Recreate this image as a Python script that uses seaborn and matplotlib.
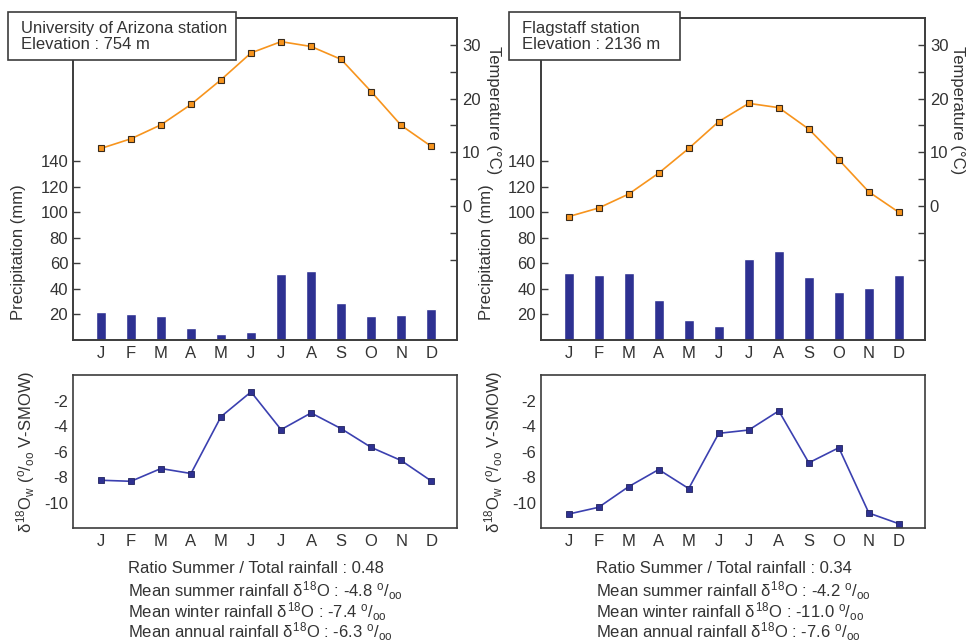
import numpy as np
import pandas as pd
import matplotlib
matplotlib.use("Agg")
import matplotlib.pyplot as plt
from matplotlib.patches import Rectangle
import seaborn as sns

# --- Data ---
months = ["Jan", "Feb", "Mar", "Apr", "May", "Jun",
          "Jul", "Aug", "Sep", "Oct", "Nov", "Dec"]
month_letters = ["J", "F", "M", "A", "M", "J", "J", "A", "S", "O", "N", "D"]

az_precip = [21.7, 20.6, 18.5, 9.6, 4.7, 6.3, 51.9, 54.0, 29.0, 18.5, 19.6, 24.0]
az_temp = [10.7, 12.5, 15.1, 18.9, 23.5, 28.5, 30.6, 29.7, 27.3, 21.3, 15.0, 11.1]
az_d18o = [-8.25, -8.33, -7.33, -7.72, -3.26, -1.32, -4.28, -2.97, -4.2, -5.67, -6.7, -8.3]

fl_precip = [52.4, 51.1, 52.7, 31.6, 15.4, 11.2, 63.1, 69.4, 49.0, 37.8, 40.7, 51.1]
fl_temp = [-2.0, -0.4, 2.2, 6.1, 10.7, 15.7, 19.1, 18.3, 14.3, 8.6, 2.6, -1.2]
fl_d18o = [-10.9, -10.37, -8.75, -7.41, -8.9, -4.57, -4.31, -2.81, -6.88, -5.7, -10.82, -11.66]

stations = ["University of Arizona station\nElevation : 754 m",
            "Flagstaff station\nElevation : 2136 m"]
summaries = [
    ["Ratio Summer / Total rainfall : 0.48",
     r"Mean summer rainfall $\delta^{18}$O : -4.8 $^{o}/_{oo}$",
     r"Mean winter rainfall $\delta^{18}$O : -7.4 $^{o}/_{oo}$",
     r"Mean annual rainfall $\delta^{18}$O : -6.3 $^{o}/_{oo}$"],
    ["Ratio Summer / Total rainfall : 0.34",
     r"Mean summer rainfall $\delta^{18}$O : -4.2 $^{o}/_{oo}$",
     r"Mean winter rainfall $\delta^{18}$O : -11.0 $^{o}/_{oo}$",
     r"Mean annual rainfall $\delta^{18}$O : -7.6 $^{o}/_{oo}$"],
]

precip_ticks = [20, 40, 60, 80, 100, 120, 140]
temp_ticks = [-10, -5, 0, 5, 10, 15, 20, 25, 30]
temp_labels = ["", "", "0", "", "10", "", "20", "", "30"]
d18o_ticks = [-10, -8, -6, -4, -2]

sns.set_theme(style="white")
plt.rcParams["font.family"] = ["Liberation Sans", "DejaVu Sans"]
plt.rcParams["mathtext.fontset"] = "custom"
plt.rcParams["mathtext.rm"] = "Liberation Sans"
plt.rcParams["mathtext.it"] = "Liberation Sans"
plt.rcParams["mathtext.bf"] = "Liberation Sans"
plt.rcParams["axes.unicode_minus"] = False

SPINE = "#3c3c3c"
TXT = "#333333"
BAR = "#2e3192"
ORANGE = "#f7941d"
LINE_BLUE = "#3b40b0"

fig = plt.figure(figsize=(9.68, 6.44), dpi=100)

x = np.arange(12)
lefts = [73 / 968, 540.7 / 968]
temp_label_x = [1.095, 1.084]
data = [(az_precip, az_temp, az_d18o), (fl_precip, fl_temp, fl_d18o)]


def style_axes(ax):
    for s in ax.spines.values():
        s.set_color(SPINE)
        s.set_linewidth(1.2)
    ax.tick_params(axis="y", direction="in", length=5, width=1, color=SPINE,
                   labelcolor=TXT, labelsize=12, pad=3.5)
    ax.tick_params(axis="x", length=0, labelcolor=TXT, labelsize=12, pad=4)


for i, (precip, temp, d18o) in enumerate(data):
    left = lefts[i]
    df = pd.DataFrame({"month": months, "precip": precip, "temp": temp, "d18o": d18o, "x": x})

    # top panel: precipitation bars + temperature line
    ax = fig.add_axes([left, 0.472, 0.397, 0.5])
    sns.barplot(data=df, x="month", y="precip", color=BAR, width=0.33,
                saturation=1, ax=ax)
    ax.set_xlim(-0.93, 11.87)
    ax.set_ylim(0, 252)
    ax.set_yticks(precip_ticks)
    ax.set_xticks(x)
    ax.set_xticklabels(month_letters)
    ax.set_xlabel("")
    ax.set_ylabel("Precipitation (mm)", fontsize=12, color=TXT)
    ax.yaxis.set_label_coords(-0.122, 0.273)
    style_axes(ax)

    ax2 = ax.twinx()
    sns.lineplot(data=df, x="x", y="temp", color=ORANGE, lw=1.2, marker="s",
                 markersize=4, markerfacecolor=ORANGE, markeredgecolor="#3a2a1a",
                 markeredgewidth=0.8, ax=ax2)
    ax2.set_xlim(-0.93, 11.87)
    ax2.set_ylim(-25, 35)
    ax2.set_yticks(temp_ticks)
    ax2.set_yticklabels(temp_labels)
    ax2.set_ylabel("Temperature (°C)", fontsize=12, color=TXT, rotation=-90, va="center")
    ax2.yaxis.set_label_coords(temp_label_x[i], 0.714)
    style_axes(ax2)

    # bottom panel: d18O
    axb = fig.add_axes([left, 0.180, 0.397, 0.2376])
    sns.lineplot(data=df, x="x", y="d18o", color=LINE_BLUE, lw=1.2, marker="s",
                 markersize=4.5, markerfacecolor=BAR, markeredgecolor="#20225e",
                 markeredgewidth=0.6, ax=axb)
    axb.set_xlim(-0.93, 11.87)
    axb.set_ylim(-12, 0)
    axb.set_yticks(d18o_ticks)
    axb.set_xticks(x)
    axb.set_xticklabels(month_letters)
    axb.set_xlabel("")
    axb.set_ylabel(r"$\delta^{18}$O$_w$ ($^{o}$/$_{oo}$ V-SMOW)", fontsize=12, color=TXT)
    axb.yaxis.set_label_coords(-0.094, 0.5)
    style_axes(axb)

# station boxes
box_specs = [(7.7 / 968, 228.3 / 968, 20.7 / 968), (509 / 968, 171 / 968, 521.7 / 968)]
for (bx, bw, tx), label in zip(box_specs, stations):
    fig.add_artist(Rectangle((bx, 0.9068), bw, 0.075, transform=fig.transFigure,
                             facecolor="white", edgecolor=SPINE, lw=1.2, zorder=5))
    fig.text(tx, 0.943, label, fontsize=12, color=TXT, va="center", ha="left",
             linespacing=1.1, zorder=6)

# summary text under the panels
text_x = [128 / 968, 596 / 968]
line_y = [0.117, 0.083, 0.050, 0.019]
for tx, lines in zip(text_x, summaries):
    for ty, line in zip(line_y, lines):
        fig.text(tx, ty, line, fontsize=12, color=TXT, va="center", ha="left")

fig.savefig("out.png", dpi=100)
